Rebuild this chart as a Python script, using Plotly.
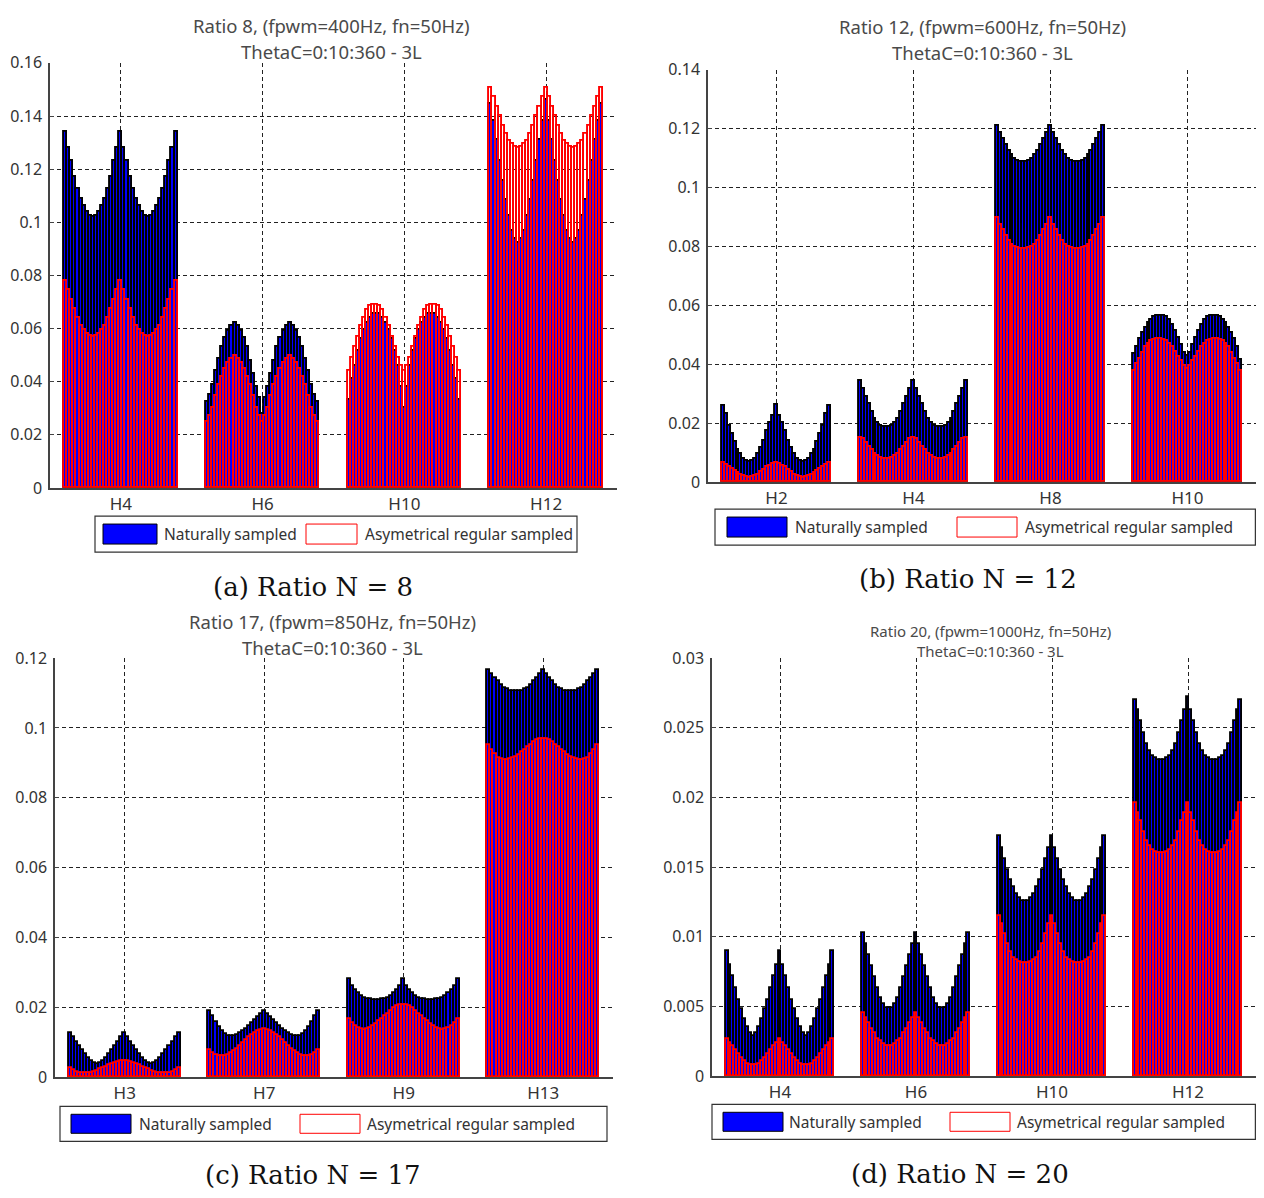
import plotly.graph_objects as go

# figure size leaves room for the 8px page margin of the html body
FW, FH = 1248, 1182
OFF = 8
# vertical correction measured on the rendered page
Y_SHIFT, Y_SCALE = 10.3, 0.981

# ThetaC = 0:10:360 -> 37 bars per harmonic group
theta_c = list(range(0, 361, 10))

# ---- (a) Ratio 8 ----
harm_a = ["H4", "H6", "H10", "H12"]
nat_a = [
    [0.134, 0.128, 0.123, 0.117, 0.1125, 0.109, 0.106, 0.104, 0.1025, 0.102,
     0.1025, 0.104, 0.106, 0.109, 0.1125, 0.117, 0.123, 0.128, 0.134,
     0.128, 0.123, 0.117, 0.1125, 0.109, 0.106, 0.104, 0.1025, 0.102,
     0.1025, 0.104, 0.106, 0.109, 0.1125, 0.117, 0.123, 0.128, 0.134],
    [0.0325, 0.035, 0.039, 0.044, 0.0485, 0.053, 0.0565, 0.059, 0.061, 0.062,
     0.061, 0.059, 0.0565, 0.053, 0.048, 0.043, 0.038, 0.034, 0.028,
     0.034, 0.038, 0.043, 0.048, 0.053, 0.0565, 0.059, 0.061, 0.062,
     0.061, 0.059, 0.0565, 0.053, 0.0485, 0.044, 0.039, 0.035, 0.0325],
    [0.033, 0.041, 0.046, 0.0515, 0.056, 0.0595, 0.062, 0.064, 0.0655, 0.0655,
     0.0655, 0.064, 0.062, 0.0595, 0.056, 0.0515, 0.046, 0.038, 0.030,
     0.038, 0.046, 0.0515, 0.056, 0.0595, 0.062, 0.064, 0.0655, 0.0655,
     0.0655, 0.064, 0.062, 0.0595, 0.056, 0.0515, 0.046, 0.041, 0.033],
    [0.1445, 0.1382, 0.1309, 0.1232, 0.1156, 0.1083, 0.1024, 0.0968, 0.0936, 0.0924,
     0.0936, 0.0968, 0.1024, 0.1083, 0.1156, 0.1232, 0.1309, 0.1382, 0.146,
     0.1382, 0.1309, 0.1232, 0.1156, 0.1083, 0.1024, 0.0968, 0.0936, 0.0924,
     0.0936, 0.0968, 0.1024, 0.1083, 0.1156, 0.1232, 0.1309, 0.1382, 0.1445],
]
asym_a = [
    [0.078, 0.0745, 0.071, 0.0675, 0.064, 0.061, 0.0595, 0.058, 0.0572, 0.057,
     0.0572, 0.058, 0.0595, 0.061, 0.064, 0.0675, 0.071, 0.0745, 0.078,
     0.0745, 0.071, 0.0675, 0.064, 0.061, 0.0595, 0.058, 0.0572, 0.057,
     0.0572, 0.058, 0.0595, 0.061, 0.064, 0.0675, 0.071, 0.0745, 0.078],
    [0.025, 0.027, 0.030, 0.0345, 0.039, 0.042, 0.045, 0.047, 0.0485, 0.0497,
     0.0485, 0.047, 0.045, 0.042, 0.039, 0.0345, 0.030, 0.027, 0.025,
     0.027, 0.030, 0.0345, 0.039, 0.042, 0.045, 0.047, 0.0485, 0.0497,
     0.0485, 0.047, 0.045, 0.042, 0.039, 0.0345, 0.030, 0.027, 0.025],
    [0.044, 0.049, 0.053, 0.057, 0.061, 0.064, 0.067, 0.0685, 0.069, 0.069,
     0.0685, 0.067, 0.064, 0.061, 0.057, 0.053, 0.049, 0.046, 0.044,
     0.046, 0.049, 0.053, 0.057, 0.061, 0.064, 0.067, 0.0685, 0.069,
     0.069, 0.0685, 0.067, 0.064, 0.061, 0.057, 0.053, 0.049, 0.044],
    [0.1507, 0.1472, 0.1434, 0.140, 0.1363, 0.1334, 0.1306, 0.1294, 0.1284, 0.128,
     0.1284, 0.1294, 0.1306, 0.1334, 0.1363, 0.140, 0.1434, 0.1472, 0.1507,
     0.1472, 0.1434, 0.140, 0.1363, 0.1334, 0.1306, 0.1294, 0.1284, 0.128,
     0.1284, 0.1294, 0.1306, 0.1334, 0.1363, 0.140, 0.1434, 0.1472, 0.1507],
]

# ---- (b) Ratio 12 ----
harm_b = ["H2", "H4", "H8", "H10"]
nat_b = [
    [0.0258, 0.0232, 0.019, 0.0165, 0.0135, 0.011, 0.0095, 0.008, 0.0072, 0.0068,
     0.0072, 0.008, 0.0095, 0.0115, 0.014, 0.0175, 0.020, 0.0225, 0.0262,
     0.0225, 0.020, 0.0175, 0.014, 0.0115, 0.0095, 0.008, 0.0072, 0.0068,
     0.0072, 0.008, 0.0095, 0.011, 0.0135, 0.0165, 0.019, 0.0232, 0.0258],
    [0.0343, 0.0315, 0.029, 0.0265, 0.024, 0.0215, 0.020, 0.019, 0.0187, 0.0187,
     0.0187, 0.019, 0.020, 0.0215, 0.024, 0.0265, 0.029, 0.0315, 0.0343,
     0.0315, 0.029, 0.0265, 0.024, 0.0215, 0.020, 0.019, 0.0187, 0.0187,
     0.0187, 0.019, 0.020, 0.0215, 0.024, 0.0265, 0.029, 0.0315, 0.0343],
    [0.1211, 0.1187, 0.1167, 0.1145, 0.1125, 0.111, 0.1098, 0.109, 0.1088, 0.1088,
     0.1088, 0.109, 0.1098, 0.111, 0.1125, 0.1145, 0.1167, 0.1187, 0.1211,
     0.1187, 0.1167, 0.1145, 0.1125, 0.111, 0.1098, 0.109, 0.1088, 0.1088,
     0.1088, 0.109, 0.1098, 0.111, 0.1125, 0.1145, 0.1167, 0.1187, 0.1211],
    [0.0435, 0.046, 0.0485, 0.0505, 0.0525, 0.054, 0.0552, 0.056, 0.0564, 0.0565,
     0.0564, 0.056, 0.055, 0.0535, 0.0515, 0.049, 0.0465, 0.044, 0.043,
     0.044, 0.0465, 0.049, 0.0515, 0.0535, 0.055, 0.056, 0.0564, 0.0565,
     0.0564, 0.056, 0.0552, 0.054, 0.0525, 0.0505, 0.0485, 0.046, 0.0415],
]
asym_b = [
    [0.0066, 0.0058, 0.0052, 0.0045, 0.0038, 0.003, 0.0024, 0.002, 0.0016, 0.0015,
     0.0016, 0.002, 0.0026, 0.0034, 0.0042, 0.005, 0.0056, 0.0062, 0.0066,
     0.0062, 0.0056, 0.005, 0.0042, 0.0034, 0.0026, 0.002, 0.0016, 0.0015,
     0.0016, 0.002, 0.0024, 0.003, 0.0038, 0.0045, 0.0052, 0.0058, 0.0066],
    [0.0151, 0.0145, 0.0132, 0.012, 0.0108, 0.0096, 0.0088, 0.0082, 0.0078, 0.0077,
     0.0078, 0.0082, 0.0088, 0.0096, 0.0108, 0.012, 0.0132, 0.0145, 0.0151,
     0.0145, 0.0132, 0.012, 0.0108, 0.0096, 0.0088, 0.0082, 0.0078, 0.0077,
     0.0078, 0.0082, 0.0088, 0.0096, 0.0108, 0.012, 0.0132, 0.0145, 0.0151],
    [0.0897, 0.0875, 0.0855, 0.0835, 0.0818, 0.0806, 0.0799, 0.0795, 0.0793, 0.0793,
     0.0793, 0.0795, 0.0799, 0.0806, 0.0818, 0.0835, 0.0855, 0.0875, 0.0897,
     0.0875, 0.0855, 0.0835, 0.0818, 0.0806, 0.0799, 0.0795, 0.0793, 0.0793,
     0.0793, 0.0795, 0.0799, 0.0806, 0.0818, 0.0835, 0.0855, 0.0875, 0.0897],
    [0.0377, 0.040, 0.042, 0.044, 0.0458, 0.047, 0.0478, 0.0483, 0.0485, 0.0485,
     0.0484, 0.048, 0.047, 0.0458, 0.0442, 0.0425, 0.041, 0.0395, 0.0385,
     0.0395, 0.041, 0.0425, 0.0442, 0.0458, 0.047, 0.048, 0.0484, 0.0485,
     0.0485, 0.0483, 0.0478, 0.047, 0.0458, 0.044, 0.042, 0.040, 0.0377],
]

# ---- (c) Ratio 17 ----
harm_c = ["H3", "H7", "H9", "H13"]
nat_c = [
    [0.0127, 0.0115, 0.0102, 0.009, 0.0078, 0.0066, 0.0056, 0.0047, 0.004, 0.0037,
     0.004, 0.0047, 0.0056, 0.0066, 0.0078, 0.009, 0.0102, 0.0115, 0.0127,
     0.0115, 0.0102, 0.009, 0.0078, 0.0066, 0.0056, 0.0047, 0.004, 0.0037,
     0.004, 0.0047, 0.0056, 0.0066, 0.0078, 0.009, 0.0102, 0.0115, 0.0127],
    [0.0189, 0.0175, 0.0158, 0.0144, 0.0132, 0.0123, 0.0118, 0.0117, 0.0118, 0.0121,
     0.0126, 0.0132, 0.0139, 0.0146, 0.0155, 0.0163, 0.0172, 0.018, 0.0189,
     0.018, 0.0172, 0.0163, 0.0155, 0.0146, 0.0139, 0.0132, 0.0126, 0.0121,
     0.0118, 0.0117, 0.0118, 0.0123, 0.0132, 0.0144, 0.0158, 0.0175, 0.0189],
    [0.0282, 0.0262, 0.025, 0.0241, 0.0233, 0.0228, 0.0225, 0.0223, 0.0222, 0.0222,
     0.0222, 0.0223, 0.0225, 0.0228, 0.0233, 0.0241, 0.025, 0.0262, 0.0282,
     0.0262, 0.025, 0.0241, 0.0233, 0.0228, 0.0225, 0.0223, 0.0222, 0.0222,
     0.0222, 0.0223, 0.0225, 0.0228, 0.0233, 0.0241, 0.025, 0.0262, 0.0282],
    [0.1167, 0.1153, 0.1143, 0.1134, 0.1124, 0.1115, 0.111, 0.1106, 0.1105, 0.1105,
     0.1105, 0.1106, 0.111, 0.1115, 0.1124, 0.1134, 0.1143, 0.1153, 0.1167,
     0.1153, 0.1143, 0.1134, 0.1124, 0.1115, 0.111, 0.1106, 0.1105, 0.1105,
     0.1105, 0.1106, 0.111, 0.1115, 0.1124, 0.1134, 0.1143, 0.1153, 0.1167],
]
asym_c = [
    [0.0025, 0.002, 0.0015, 0.0012, 0.0012, 0.0012, 0.0012, 0.0013, 0.0016, 0.0019,
     0.0022, 0.0026, 0.003, 0.0034, 0.0037, 0.0041, 0.0044, 0.0046, 0.0047,
     0.0046, 0.0044, 0.0041, 0.0037, 0.0034, 0.003, 0.0026, 0.0022, 0.0019,
     0.0016, 0.0013, 0.0012, 0.0012, 0.0012, 0.0012, 0.0015, 0.002, 0.0025],
    [0.0079, 0.007, 0.0064, 0.0061, 0.0061, 0.0062, 0.0064, 0.0068, 0.0074, 0.0082,
     0.009, 0.0098, 0.0106, 0.0114, 0.0121, 0.0127, 0.0132, 0.0135, 0.0137,
     0.0135, 0.0132, 0.0127, 0.0121, 0.0114, 0.0106, 0.0098, 0.009, 0.0082,
     0.0074, 0.0068, 0.0064, 0.0062, 0.0061, 0.0061, 0.0064, 0.007, 0.0079],
    [0.0166, 0.0155, 0.0146, 0.014, 0.0137, 0.0136, 0.0138, 0.0142, 0.0147, 0.0153,
     0.016, 0.0167, 0.0174, 0.0182, 0.019, 0.0197, 0.0203, 0.0207, 0.0208,
     0.0207, 0.0203, 0.0197, 0.019, 0.0182, 0.0174, 0.0167, 0.016, 0.0153,
     0.0147, 0.0142, 0.0138, 0.0136, 0.0137, 0.014, 0.0146, 0.0155, 0.0166],
    [0.0951, 0.0938, 0.0924, 0.0915, 0.091, 0.0908, 0.0908, 0.091, 0.0913, 0.0918,
     0.0923, 0.093, 0.0937, 0.0945, 0.0952, 0.096, 0.0965, 0.0967, 0.0968,
     0.0967, 0.0965, 0.096, 0.0952, 0.0945, 0.0937, 0.093, 0.0923, 0.0918,
     0.0913, 0.091, 0.0908, 0.0908, 0.091, 0.0915, 0.0924, 0.0938, 0.0951],
]

# ---- (d) Ratio 20 ----
harm_d = ["H4", "H6", "H10", "H12"]
nat_d = [
    [0.009, 0.008, 0.0072, 0.0063, 0.0055, 0.0048, 0.0041, 0.0035, 0.0031, 0.0029,
     0.0031, 0.0035, 0.0041, 0.0048, 0.0055, 0.0063, 0.0072, 0.008, 0.009,
     0.008, 0.0072, 0.0063, 0.0055, 0.0048, 0.0041, 0.0035, 0.0031, 0.0029,
     0.0031, 0.0035, 0.0041, 0.0048, 0.0055, 0.0063, 0.0072, 0.008, 0.009],
    [0.0103, 0.0095, 0.0087, 0.0079, 0.0071, 0.0063, 0.0056, 0.0052, 0.0049, 0.0049,
     0.0049, 0.0052, 0.0056, 0.0063, 0.0071, 0.0079, 0.0087, 0.0095, 0.0103,
     0.0095, 0.0087, 0.0079, 0.0071, 0.0063, 0.0056, 0.0052, 0.0049, 0.0049,
     0.0049, 0.0052, 0.0056, 0.0063, 0.0071, 0.0079, 0.0087, 0.0095, 0.0103],
    [0.0172, 0.0164, 0.0156, 0.0148, 0.0141, 0.0136, 0.0131, 0.0128, 0.0126, 0.0126,
     0.0126, 0.0128, 0.0131, 0.0136, 0.0141, 0.0148, 0.0156, 0.0164, 0.0172,
     0.0164, 0.0156, 0.0148, 0.0141, 0.0136, 0.0131, 0.0128, 0.0126, 0.0126,
     0.0126, 0.0128, 0.0131, 0.0136, 0.0141, 0.0148, 0.0156, 0.0164, 0.0172],
    [0.027, 0.0263, 0.0255, 0.0246, 0.0238, 0.0233, 0.023, 0.0228, 0.0227, 0.0227,
     0.0227, 0.0228, 0.023, 0.0233, 0.0238, 0.0246, 0.0255, 0.0263, 0.0272,
     0.0263, 0.0255, 0.0246, 0.0238, 0.0233, 0.023, 0.0228, 0.0227, 0.0227,
     0.0227, 0.0228, 0.023, 0.0233, 0.0238, 0.0246, 0.0255, 0.0263, 0.027],
]
asym_d = [
    [0.0027, 0.0024, 0.0022, 0.0019, 0.0016, 0.0013, 0.0011, 0.0009, 0.0008, 0.0008,
     0.0008, 0.0009, 0.0011, 0.0013, 0.0016, 0.0019, 0.0022, 0.0024, 0.0027,
     0.0024, 0.0022, 0.0019, 0.0016, 0.0013, 0.0011, 0.0009, 0.0008, 0.0008,
     0.0008, 0.0009, 0.0011, 0.0013, 0.0016, 0.0019, 0.0022, 0.0024, 0.0027],
    [0.0045, 0.0042, 0.0038, 0.0034, 0.0031, 0.0027, 0.0025, 0.0023, 0.0022, 0.0022,
     0.0022, 0.0023, 0.0025, 0.0027, 0.0031, 0.0034, 0.0038, 0.0042, 0.0045,
     0.0042, 0.0038, 0.0034, 0.0031, 0.0027, 0.0025, 0.0023, 0.0022, 0.0022,
     0.0022, 0.0023, 0.0025, 0.0027, 0.0031, 0.0034, 0.0038, 0.0042, 0.0045],
    [0.0115, 0.0109, 0.0102, 0.0095, 0.0089, 0.0085, 0.0083, 0.0082, 0.0081, 0.0081,
     0.0081, 0.0082, 0.0083, 0.0085, 0.0089, 0.0095, 0.0102, 0.0109, 0.0115,
     0.0109, 0.0102, 0.0095, 0.0089, 0.0085, 0.0083, 0.0082, 0.0081, 0.0081,
     0.0081, 0.0082, 0.0083, 0.0085, 0.0089, 0.0095, 0.0102, 0.0109, 0.0115],
    [0.0196, 0.0189, 0.0183, 0.0175, 0.0169, 0.0165, 0.0162, 0.0161, 0.016, 0.016,
     0.016, 0.0161, 0.0162, 0.0165, 0.0169, 0.0175, 0.0183, 0.0189, 0.0196,
     0.0189, 0.0183, 0.0175, 0.0169, 0.0165, 0.0162, 0.0161, 0.016, 0.016,
     0.016, 0.0161, 0.0162, 0.0165, 0.0169, 0.0175, 0.0183, 0.0189, 0.0196],
]

yticks_a = [0, 0.02, 0.04, 0.06, 0.08, 0.1, 0.12, 0.14, 0.16]
yticks_b = [0, 0.02, 0.04, 0.06, 0.08, 0.1, 0.12, 0.14]
yticks_c = [0, 0.02, 0.04, 0.06, 0.08, 0.1, 0.12]
yticks_d = [0, 0.005, 0.01, 0.015, 0.02, 0.025, 0.03]

titles = [
    ["Ratio 8, (fpwm=400Hz, fn=50Hz)", "ThetaC=0:10:360 - 3L"],
    ["Ratio 12, (fpwm=600Hz, fn=50Hz)", "ThetaC=0:10:360 - 3L"],
    ["Ratio 17, (fpwm=850Hz, fn=50Hz)", "ThetaC=0:10:360 - 3L"],
    ["Ratio 20, (fpwm=1000Hz, fn=50Hz)", "ThetaC=0:10:360 - 3L"],
]
captions = ["(a) Ratio N = 8", "(b) Ratio N = 12", "(c) Ratio N = 17", "(d) Ratio N = 20"]
legend_names = ["Naturally sampled", "Asymetrical regular sampled"]

# pixel layout of each panel (picture pixels)
panels = [
    dict(harm=harm_a, nat=nat_a, asym=asym_a, yt=yticks_a, plot=(50, 617, 62, 487),
         tpos=(331, 25, 51), tsize=18.5, leg=(95, 577, 515, 551, 103, 157, 162, 306, 357, 363), cap=(313, 586)),
    dict(harm=harm_b, nat=nat_b, asym=asym_b, yt=yticks_b, plot=(708, 1258, 69, 481),
         tpos=(982, 26, 52), tsize=18.5, leg=(715, 1264, 508, 544, 727, 787, 793, 957, 1017, 1023), cap=(968, 578)),
    dict(harm=harm_c, nat=nat_c, asym=asym_c, yt=yticks_c, plot=(55, 613, 657, 1076),
         tpos=(332, 620, 646), tsize=18.5, leg=(60, 607, 1105, 1140, 71, 131, 137, 300, 360, 365), cap=(313, 1174)),
    dict(harm=harm_d, nat=nat_d, asym=asym_d, yt=yticks_d, plot=(712, 1256, 657, 1075),
         tpos=(990, 630, 650), tsize=15, leg=(712, 1260, 1103, 1138, 723, 783, 787, 950, 1010, 1015), cap=(960, 1173)),
]

def px(x):
    return (x - OFF) / FW

def py(y):
    return 1 - ((y - Y_SHIFT) / Y_SCALE - OFF) / FH

n_bar = len(theta_c)
bar_w = 0.8 / n_bar
sans = "Noto Sans"

fig = go.Figure()
annotations = []
shapes = []
layout_axes = {}

for i, p in enumerate(panels):
    sfx = "" if i == 0 else str(i + 1)
    xs = [g + 1 + (j - (n_bar - 1) / 2) * bar_w for g in range(len(p["harm"])) for j in range(n_bar)]
    y_nat = [v for grp in p["nat"] for v in grp]
    y_asym = [v for grp in p["asym"] for v in grp]
    fig.add_trace(go.Bar(x=xs, y=y_nat, width=bar_w, name=legend_names[0], showlegend=False,
                         marker=dict(color="#0000ff", line=dict(color="black", width=1.9)),
                         xaxis="x" + sfx, yaxis="y" + sfx))
    fig.add_trace(go.Bar(x=xs, y=y_asym, width=bar_w, name=legend_names[1], showlegend=False,
                         marker=dict(color="rgba(255,0,0,0)", line=dict(color="#ff0000", width=1.9)),
                         xaxis="x" + sfx, yaxis="y" + sfx))

    x0, x1, y0, y1 = p["plot"]
    yt = p["yt"]
    grid = dict(showgrid=True, gridcolor="#222222", griddash="4px,3px", gridwidth=1, zeroline=False,
                showline=True, linecolor="#444444", linewidth=1.5)
    layout_axes["xaxis" + sfx] = dict(grid, domain=[px(x0), min(px(x1), 1)], range=[0.5, len(p["harm"]) + 0.5],
                                      tickvals=list(range(1, len(p["harm"]) + 1)), ticktext=p["harm"],
                                      anchor="y" + sfx, ticks="", fixedrange=True,
                                      tickfont=dict(family=sans, size=17, color="#333333"))
    layout_axes["yaxis" + sfx] = dict(grid, domain=[py(y1), py(y0)], range=[0, yt[-1]],
                                      tickvals=yt, ticktext=["%g" % v for v in yt],
                                      anchor="x" + sfx, ticks="inside", ticklen=4, tickcolor="#444444",
                                      ticklabelstandoff=3,
                                      tickfont=dict(family=sans, size=16, color="#333333"))

    tx, ty1, ty2 = p["tpos"]
    for txt, ty in zip(titles[i], (ty1, ty2)):
        annotations.append(dict(text=txt, x=px(tx), y=py(ty), xref="paper", yref="paper",
                                showarrow=False, xanchor="center", yanchor="middle",
                                font=dict(family=sans, size=p["tsize"], color="#4a4a4a")))

    lx0, lx1, ly0, ly1, bx0, bx1, t1x, rx0, rx1, t2x = p["leg"]
    ymid = (ly0 + ly1) / 2
    shapes.append(dict(type="rect", xref="paper", yref="paper", x0=px(lx0), x1=min(px(lx1), 0.9995),
                       y0=py(ly1), y1=py(ly0), line=dict(color="#333333", width=1.2), fillcolor="white"))
    shapes.append(dict(type="rect", xref="paper", yref="paper", x0=px(bx0), x1=px(bx1), y0=py(ly1 - 8), y1=py(ly0 + 8),
                       line=dict(color="black", width=1), fillcolor="#0000ff"))
    shapes.append(dict(type="rect", xref="paper", yref="paper", x0=px(rx0), x1=px(rx1), y0=py(ly1 - 8), y1=py(ly0 + 8),
                       line=dict(color="#ff0000", width=1), fillcolor="white"))
    for txt, lx in zip(legend_names, (t1x, t2x)):
        annotations.append(dict(text=txt, x=px(lx), y=py(ymid), xref="paper", yref="paper",
                                showarrow=False, xanchor="left", yanchor="middle",
                                font=dict(family=sans, size=15.5, color="#333333")))

    cx, cy = p["cap"]
    annotations.append(dict(text=captions[i], x=px(cx), y=py(cy), xref="paper", yref="paper",
                            showarrow=False, xanchor="center", yanchor="middle",
                            font=dict(family="DejaVu Serif", size=26, color="#111111")))

fig.update_layout(width=FW, height=FH, margin=dict(l=0, r=0, t=0, b=0),
                  paper_bgcolor="white", plot_bgcolor="white",
                  barmode="overlay", bargap=0, showlegend=False,
                  annotations=annotations, shapes=shapes, **layout_axes)

fig.write_html("out.html")
